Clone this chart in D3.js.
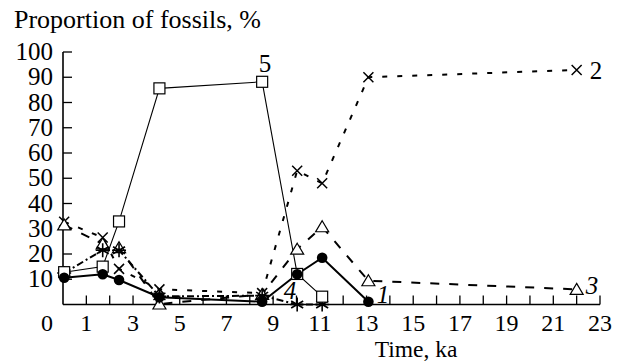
<!DOCTYPE html>
<html><head><meta charset="utf-8">
<script src="https://cdn.jsdelivr.net/npm/d3@7"></script>
<style>body{margin:0;background:#fff}svg{display:block}</style>
</head><body><svg id="c" width="621" height="362"></svg>
<script>
const times = [0.05, 1.7, 2.4, 4.13, 8.53, 10.03, 11.1, 13.08, 22];
const series1 = [10.6, 12, 9.7, 2.9, 1.1, 12, 18.5, 1.1, null];
const series2 = [32.8, 26.5, 14.1, 6, 4.5, 53, 48, 90, 92.9];
const series3 = [31.5, 24, 22.5, 0.2, 4, 21.9, 30.8, 9.4, 6];
const series4 = [12.5, 21.5, 21.5, 3.2, 3.5, 0, 0, null, null];
const series5 = [12.8, 15, 32.9, 85.6, 88.2, 12.1, 3.1, null, null];
const yTicks = [10, 20, 30, 40, 50, 60, 70, 80, 90, 100];
const xTickLabels = [1, 3, 5, 7, 9, 11, 13, 15, 17, 19, 21, 23];
const seriesLabels = ["1", "2", "3", "4", "5"];

const FONT = "'Liberation Serif', 'DejaVu Serif', serif";
const svg = d3.select("#c");
const x = d3.scaleLinear().domain([0, 23]).range([63, 600]);
const y = d3.scaleLinear().domain([0, 100]).range([304.5, 52]);

function txt(sel, size, italic) {
  return sel.style("font-family", FONT).style("font-size", size + "px").style("font-style", italic ? "italic" : "normal").style("fill", "#000");
}

const g = svg.append("g");
g.append("line").attr("x1", x(0)).attr("x2", x(0)).attr("y1", y(100)).attr("y2", y(0)).attr("stroke", "#000").attr("stroke-width", 1.6);
g.append("line").attr("x1", x(0)).attr("x2", x(23)).attr("y1", y(0)).attr("y2", y(0)).attr("stroke", "#000").attr("stroke-width", 1.6);
g.selectAll(".yt").data(yTicks).join("line").attr("x1", x(0)).attr("x2", x(0) + 9).attr("y1", d => y(d)).attr("y2", d => y(d)).attr("stroke", "#000").attr("stroke-width", 1.3);
txt(g.selectAll(".ytl").data(yTicks).join("text").attr("x", 53).attr("y", d => y(d) + 8).attr("text-anchor", "end").text(d => d), 25);
g.selectAll(".xt").data(d3.range(1, 24)).join("line").attr("x1", d => x(d)).attr("x2", d => x(d)).attr("y1", y(0)).attr("y2", y(0) - 9).attr("stroke", "#000").attr("stroke-width", 1.3);
txt(g.selectAll(".xtl").data(xTickLabels).join("text").attr("x", d => x(d)).attr("y", 331).attr("text-anchor", "middle").text(d => d), 24);
txt(g.append("text").attr("x", 47).attr("y", 331).attr("text-anchor", "middle").text("0"), 24);
txt(g.append("text").attr("x", 14).attr("y", 28).text("Proportion of fossils, %"), 26);
txt(g.append("text").attr("x", 416).attr("y", 357).attr("text-anchor", "middle").text("Time, ka"), 23.5);

function pts(vals) { return times.map((t, i) => [t, vals[i]]).filter(d => d[1] !== null); }
const line = d3.line().x(d => x(d[0])).y(d => y(d[1]));

const defs = [
  {vals: series2, dash: "5,10", w: 2, m: "x"},
  {vals: series3, dash: "9,10", w: 2, m: "tri"},
  {vals: series4, dash: "7,3,2,3", w: 2, m: "ast"},
  {vals: series5, dash: null, w: 1.1, m: "sq"},
  {vals: series1, dash: null, w: 2, m: "dot"}
];
defs.forEach(s => {
  svg.append("path").attr("d", line(pts(s.vals))).attr("fill", "none").attr("stroke", "#000")
    .attr("stroke-width", s.w).attr("stroke-dasharray", s.dash);
});
defs.forEach(s => {
  const mg = svg.append("g");
  pts(s.vals).forEach(d => {
    const cx = x(d[0]), cy = y(d[1]);
    if (s.m === "dot") mg.append("circle").attr("cx", cx).attr("cy", cy).attr("r", 5.3).attr("fill", "#000");
    else if (s.m === "sq") mg.append("rect").attr("x", cx - 5.5).attr("y", cy - 5.5).attr("width", 11).attr("height", 11).attr("fill", "#fff").attr("stroke", "#000").attr("stroke-width", 1.2);
    else if (s.m === "tri") mg.append("path").attr("d", `M${cx},${cy-6}L${cx+6.5},${cy+5}L${cx-6.5},${cy+5}Z`).attr("fill", "#fff").attr("stroke", "#000").attr("stroke-width", 1.2);
    else if (s.m === "x") mg.append("path").attr("d", `M${cx-5},${cy-5}L${cx+5},${cy+5}M${cx+5},${cy-5}L${cx-5},${cy+5}`).attr("stroke", "#000").attr("stroke-width", 1.5);
    else if (s.m === "ast") mg.append("path").attr("d", `M${cx},${cy-7}L${cx},${cy+7}M${cx-6},${cy-3.5}L${cx+6},${cy+3.5}M${cx+6},${cy-3.5}L${cx-6},${cy+3.5}M${cx-7},${cy}L${cx+7},${cy}`).attr("stroke", "#000").attr("stroke-width", 1.6);
  });
});
const lab = [
  {t: seriesLabels[0], x: 383, y: 303, it: true},
  {t: seriesLabels[1], x: 596, y: 79, it: false},
  {t: seriesLabels[2], x: 592, y: 294, it: true},
  {t: seriesLabels[3], x: 290, y: 299, it: true},
  {t: seriesLabels[4], x: 265, y: 72, it: false}
];
lab.forEach(d => txt(svg.append("text").attr("x", d.x).attr("y", d.y).attr("text-anchor", "middle").text(d.t), 25, d.it));
</script></body></html>
